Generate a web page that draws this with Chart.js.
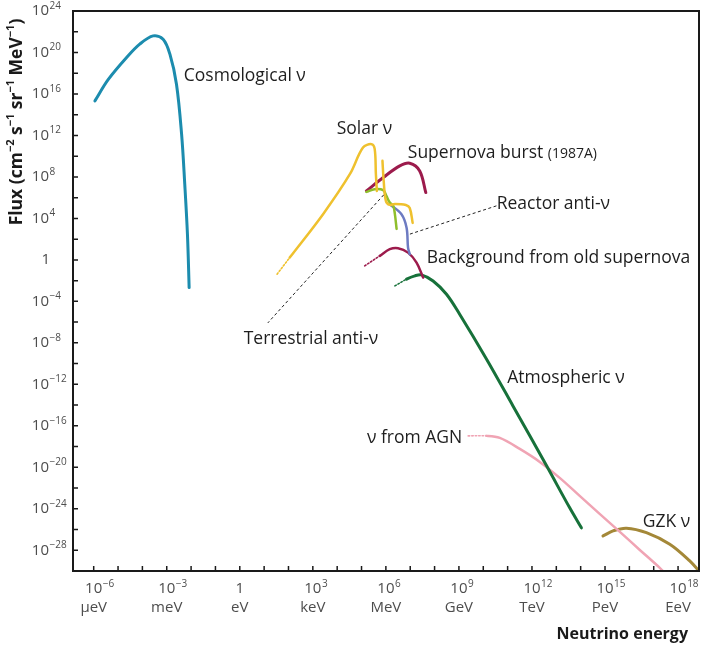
<!DOCTYPE html>
<html>
<head>
<meta charset="utf-8">
<script src="https://cdn.jsdelivr.net/npm/chart.js@4/dist/chart.umd.min.js"></script>
<style>
  html, body { margin: 0; padding: 0; background: #fff; }
</style>
</head>
<body>
<canvas id="fluxChart" width="703" height="645"></canvas>
<script>
// --- EJES (exponentes de 10) ---
const X_MIN_EXP = -6.85, X_MAX_EXP = 18.86;
const Y_MIN_EXP = -30, Y_MAX_EXP = 24;
const xTickExps = [-6, -3, 0, 3, 6, 9, 12, 15, 18];
const xTickUnits = ['μeV', 'meV', 'eV', 'keV', 'MeV', 'GeV', 'TeV', 'PeV', 'EeV'];
const yTickExps = [24, 20, 16, 12, 8, 4, 0, -4, -8, -12, -16, -20, -24, -28];

// --- DATOS: log10(E / eV) y log10(flujo) ---
const cosmoE = [-5.95, -5.40, -4.65, -4.11, -3.56, -3.15, -2.87, -2.60, -2.39, -2.26, -2.15, -2.08];
const cosmoF = [15.33, 17.40, 19.51, 20.80, 21.60, 21.28, 19.84, 16.94, 12.12, 7.30, 2.48, -2.67];

const solarE = [1.53, 2.05, 3.42, 4.52, 5.06, 5.41, 5.54, 5.59, 5.63];
const solarF = [-1.38, 0.22, 4.41, 8.26, 10.83, 11.16, 10.70, 8.26, 6.65];

const solarBE = [5.86, 5.91, 6.00, 6.16, 6.37, 6.82, 6.98, 7.10];
const solarBF = [9.55, 7.62, 5.69, 5.30, 5.40, 5.30, 5.01, 3.57];

const terrE = [5.20, 5.54, 5.89, 6.02, 6.16, 6.30, 6.37, 6.44];
const terrF = [6.56, 6.82, 6.72, 6.17, 5.53, 5.21, 4.41, 2.99];

const snE = [5.20, 5.89, 6.57, 6.98, 7.39, 7.64];
const snF = [6.65, 7.94, 9.06, 9.32, 8.58, 6.49];

const reactorE = [6.16, 6.64, 6.85, 6.91, 6.98];
const reactorF = [5.37, 4.41, 3.11, 1.19, 0.55];

const bgE = [5.13, 5.75, 6.16, 6.50, 6.91, 7.26, 7.53];
const bgF = [-0.58, 0.39, 1.03, 1.13, 0.70, -0.26, -1.71];

const atmoE = [6.37, 6.85, 7.19, 7.46, 7.94, 8.49, 9.03, 10.13, 11.22, 12.60, 13.55, 14.03];
const atmoF = [-2.51, -1.86, -1.54, -1.45, -2.03, -3.31, -5.24, -9.55, -14.08, -19.86, -23.91, -25.84];

const agnE = [9.38, 10.13, 10.68, 11.50, 12.32, 13.14, 13.96, 14.78, 15.61, 16.43, 17.25, 17.45];
const agnF = [-16.97, -16.97, -17.17, -18.23, -19.48, -21.02, -22.76, -24.49, -26.23, -27.97, -29.70, -30.19];

const gzkE = [14.92, 15.33, 15.88, 16.70, 17.66, 18.48, 18.89];
const gzkF = [-26.62, -26.13, -25.87, -26.30, -27.42, -29.03, -30.09];

// --- ETIQUETAS (posicion en log10) ---
const labelTexts = ['Cosmological ν', 'Solar ν', 'Supernova burst', 'Reactor anti-ν',
  'Background from old supernova', 'Terrestrial anti-ν', 'Atmospheric ν', 'ν from AGN', 'GZK ν'];
const labelE = [-2.30, 3.98, 6.90, 10.55, 7.68, 0.16, 10.98, 5.22, 16.55];
const labelF = [17.74, 12.63, 10.32, 5.40, 0.19, -7.62, -11.41, -17.16, -25.27];

// lineas de trazos que unen etiqueta y curva
const leaderE = [[10.54, 6.98], [5.91, 1.15]];
const leaderF = [[5.21, 2.48], [6.27, -6.08]];

const FONT = '"Open Sans", "Noto Sans", sans-serif';

function serie(label, es, fs, color, width, dotted) {
  return {
    label: label,
    data: es.map((e, i) => ({ x: Math.pow(10, e), y: Math.pow(10, fs[i]) })),
    borderColor: color,
    borderWidth: width,
    pointRadius: 0,
    tension: 0.35,
    fill: false,
    borderCapStyle: 'round',
    borderJoinStyle: 'round',
    segment: {
      borderDash: c => (c.p0DataIndex < dotted ? [1.5, 2] : undefined),
      borderWidth: c => (c.p0DataIndex < dotted ? 1.6 : width)
    }
  };
}

// dibuja 10^exp con el exponente en pequeño
function potencia(ctx, exp, x, y, modo) {
  ctx.textBaseline = 'middle';
  ctx.font = '15px ' + FONT;
  if (exp === 0) {
    ctx.textAlign = modo === 'centro' ? 'center' : 'right';
    ctx.fillText('1', modo === 'centro' ? x : x + 1, y);
    return;
  }
  const w = ctx.measureText('10').width;
  let bx = modo === 'centro' ? x - w / 2 : x - w;
  ctx.textAlign = 'left';
  ctx.fillText('10', bx, y);
  ctx.font = '10px ' + FONT;
  ctx.fillText(String(exp).replace('-', '−'), bx + w + 0.5, y - 5);
}

const decorado = {
  id: 'decorado',
  afterDatasetsDraw(chart) {
    const { ctx, chartArea: a, scales: { x, y } } = chart;
    const px = e => x.getPixelForValue(Math.pow(10, e));
    const py = f => y.getPixelForValue(Math.pow(10, f));
    ctx.save();

    // marco
    ctx.strokeStyle = '#1a1a1a';
    ctx.lineWidth = 2;
    ctx.strokeRect(a.left, a.top, a.right - a.left, a.bottom - a.top);

    // marcas hacia dentro
    ctx.lineWidth = 1.5;
    ctx.beginPath();
    for (let e = -6; e <= 18; e++) {
      ctx.moveTo(px(e), a.bottom);
      ctx.lineTo(px(e), a.bottom - 5);
    }
    for (let f = -28; f <= 22; f += 2) {
      ctx.moveTo(a.left, py(f));
      ctx.lineTo(a.left + 5, py(f));
    }
    ctx.stroke();

    // textos de los ejes
    ctx.fillStyle = '#4d4d4d';
    xTickExps.forEach((e, i) => {
      potencia(ctx, e, px(e), a.bottom + 18, 'centro');
      ctx.font = '15px ' + FONT;
      ctx.textAlign = 'center';
      ctx.fillText(xTickUnits[i], px(e), a.bottom + 37);
    });
    yTickExps.forEach(f => potencia(ctx, f, 49, py(f), 'derecha'));

    ctx.fillStyle = '#1a1a1a';
    ctx.font = 'bold 16px ' + FONT;
    ctx.textAlign = 'right';
    ctx.textBaseline = 'middle';
    ctx.fillText('Neutrino energy', 688, 634);

    // titulo vertical con superindices
    const partes = [['Flux (cm', 0], ['−2', 1], [' s', 0], ['−1', 1], [' sr', 0], ['−1', 1], [' MeV', 0], ['−1', 1], [')', 0]];
    const fuente = p => (p[1] ? 'bold 11px ' : 'bold 17.5px ') + FONT;
    let total = 0;
    partes.forEach(p => { ctx.font = fuente(p); total += ctx.measureText(p[0]).width; });
    ctx.translate(17, 122);
    ctx.rotate(-Math.PI / 2);
    ctx.textAlign = 'left';
    let cx = -total / 2;
    partes.forEach(p => {
      ctx.font = fuente(p);
      ctx.fillText(p[0], cx, p[1] ? -6 : 0);
      cx += ctx.measureText(p[0]).width;
    });
    ctx.setTransform(1, 0, 0, 1, 0, 0);

    // lineas de trazos
    ctx.strokeStyle = '#222';
    ctx.lineWidth = 1;
    ctx.setLineDash([3, 2.5]);
    leaderE.forEach((le, i) => {
      ctx.beginPath();
      ctx.moveTo(px(le[0]), py(leaderF[i][0]));
      ctx.lineTo(px(le[1]), py(leaderF[i][1]));
      ctx.stroke();
    });
    ctx.setLineDash([]);

    // etiquetas de las curvas
    ctx.fillStyle = '#1e1e1e';
    ctx.textAlign = 'left';
    ctx.textBaseline = 'middle';
    labelTexts.forEach((t, i) => {
      ctx.font = '17.5px ' + FONT;
      const lx = px(labelE[i]), ly = py(labelF[i]);
      ctx.fillText(t, lx, ly);
      if (t === 'Supernova burst') {
        const w = ctx.measureText(t + ' ').width;
        ctx.font = '14px ' + FONT;
        ctx.fillText('(1987A)', lx + w, ly + 1);
      }
    });
    ctx.restore();
  }
};

const ctx = document.getElementById('fluxChart').getContext('2d');
const fluxChart = new Chart(ctx, {
  type: 'line',
  data: {
    datasets: [
      serie('Cosmological', cosmoE, cosmoF, '#1c8cae', 3, 0),
      serie('Solar', solarE, solarF, '#efc12e', 2.5, 1),
      serie('Solar 8B', solarBE, solarBF, '#efc12e', 2.5, 0),
      serie('Terrestrial', terrE, terrF, '#8fbf2c', 2.5, 0),
      serie('Supernova burst', snE, snF, '#9c1b4c', 3, 0),
      serie('Reactor', reactorE, reactorF, '#6d7bc2', 2.5, 0),
      serie('Background SN', bgE, bgF, '#9c1b4c', 2.5, 1),
      serie('Atmospheric', atmoE, atmoF, '#17713a', 3, 1),
      serie('AGN', agnE, agnF, '#f0a4b4', 2.5, 1),
      serie('GZK', gzkE, gzkF, '#a48838', 3, 0)
    ]
  },
  options: {
    responsive: false,
    animation: false,
    layout: { padding: { left: 73, top: 11, right: 4, bottom: 74 } },
    plugins: { legend: { display: false }, tooltip: { enabled: false } },
    scales: {
      x: { type: 'logarithmic', display: false, min: Math.pow(10, X_MIN_EXP), max: Math.pow(10, X_MAX_EXP) },
      y: { type: 'logarithmic', display: false, min: Math.pow(10, Y_MIN_EXP), max: Math.pow(10, Y_MAX_EXP) }
    }
  },
  plugins: [decorado]
});
</script>
</body>
</html>
